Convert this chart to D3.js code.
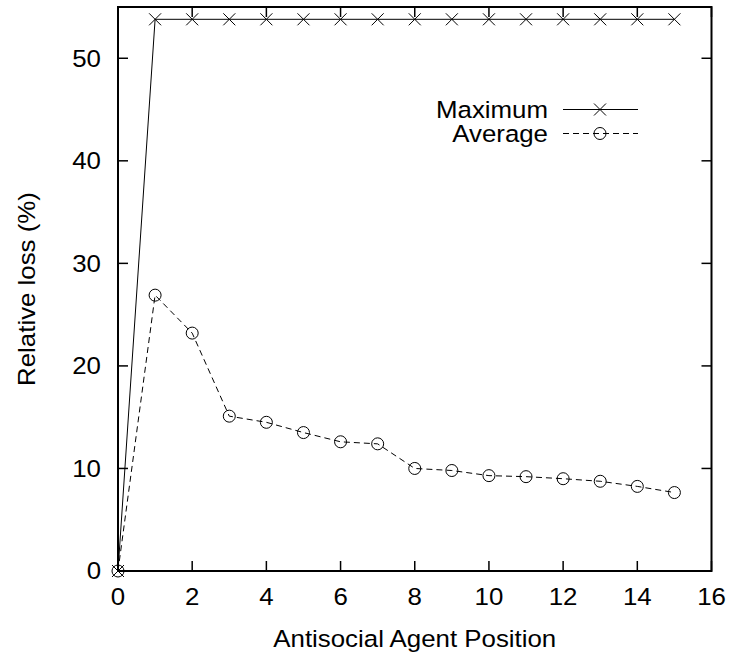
<!DOCTYPE html>
<html><head><meta charset="utf-8">
<script src="https://cdn.jsdelivr.net/npm/d3@7"></script>
<style>body{margin:0;background:#fff}text{font-family:"Liberation Sans",Arial,sans-serif;fill:#000}</style>
</head><body><svg id="c" width="730" height="656"></svg>
<script>
const positions = [0,1,2,3,4,5,6,7,8,9,10,11,12,13,14,15];
const maximum = [0,53.8,53.8,53.8,53.8,53.8,53.8,53.8,53.8,53.8,53.8,53.8,53.8,53.8,53.8,53.8];
const average = [0,26.9,23.2,15.1,14.5,13.5,12.6,12.4,10.0,9.8,9.3,9.2,9.0,8.75,8.25,7.65];
const xTicks = [0,2,4,6,8,10,12,14,16];
const yTicks = [0,10,20,30,40,50];
const xLabel = "Antisocial Agent Position";
const yLabel = "Relative loss (%)";
const seriesNames = ["Maximum","Average"];

const svg = d3.select("#c");
const L=118, R=711.5, T=7, B=571;
const x = d3.scaleLinear().domain([0,16]).range([L,R]);
const y = d3.scaleLinear().domain([0,55]).range([B,T]);
const fs = 23.5, sx = 1.1;

function txt(sel, tx, ty, s, anchor, dy, rot){
  const t = sel.append("text")
    .attr("transform", `translate(${tx},${ty})${rot?` rotate(${rot})`:""} scale(${sx},1)`)
    .attr("text-anchor", anchor).attr("font-size", fs).text(s);
  if (dy) t.attr("dy", dy);
  return t;
}

const tk = 10;
const g = svg.append("g");
xTicks.forEach(v=>{
  g.append("line").attr("x1",x(v)).attr("x2",x(v)).attr("y1",B).attr("y2",B-tk).attr("stroke","#000").attr("stroke-width",1.5);
  g.append("line").attr("x1",x(v)).attr("x2",x(v)).attr("y1",T).attr("y2",T+tk).attr("stroke","#000").attr("stroke-width",1.5);
  txt(g, x(v), 605, v, "middle");
});
yTicks.forEach(v=>{
  g.append("line").attr("x1",L).attr("x2",L+tk).attr("y1",y(v)).attr("y2",y(v)).attr("stroke","#000").attr("stroke-width",1.5);
  g.append("line").attr("x1",R).attr("x2",R-tk).attr("y1",y(v)).attr("y2",y(v)).attr("stroke","#000").attr("stroke-width",1.5);
  txt(g, 101, y(v), v, "end", "0.35em");
});
svg.append("rect").attr("x",L).attr("y",T).attr("width",R-L).attr("height",B-T).attr("fill","none").attr("stroke","#000").attr("stroke-width",2);

txt(svg, (L+R)/2, 647, xLabel, "middle");
svg.append("text").attr("transform",`translate(35,${(T+B)/2}) rotate(-90) scale(${sx},1)`).attr("text-anchor","middle").attr("font-size",fs).text(yLabel);

const line = d3.line().x((d,i)=>x(positions[i])).y(d=>y(d));
function cross(sel, cx, cy){
  const s=6;
  sel.append("path").attr("d",`M${cx-s},${cy-s}L${cx+s},${cy+s}M${cx-s},${cy+s}L${cx+s},${cy-s}`).attr("stroke","#000").attr("stroke-width",1).attr("fill","none");
}
function circ(sel, cx, cy){
  sel.append("circle").attr("cx",cx).attr("cy",cy).attr("r",6).attr("fill","none").attr("stroke","#000").attr("stroke-width",1);
}
svg.append("path").datum(maximum).attr("d",line).attr("fill","none").attr("stroke","#000").attr("stroke-width",1);
maximum.forEach((d,i)=>cross(svg,x(positions[i]),y(d)));
svg.append("path").datum(average).attr("d",line).attr("fill","none").attr("stroke","#000").attr("stroke-width",1).attr("stroke-dasharray","6,4");
average.forEach((d,i)=>circ(svg,x(positions[i]),y(d)));

const lg = svg.append("g");
const ly = [109.5, 133.5];
seriesNames.forEach((n,i)=>{
  txt(lg, 548, ly[i], n, "end", "0.35em");
  lg.append("line").attr("x1",563).attr("x2",638).attr("y1",ly[i]).attr("y2",ly[i]).attr("stroke","#000").attr("stroke-width",1).attr("stroke-dasharray", i===1?"6,4":null);
  if(i===0) cross(lg,600,ly[i]); else circ(lg,600,ly[i]);
});
</script></body></html>
